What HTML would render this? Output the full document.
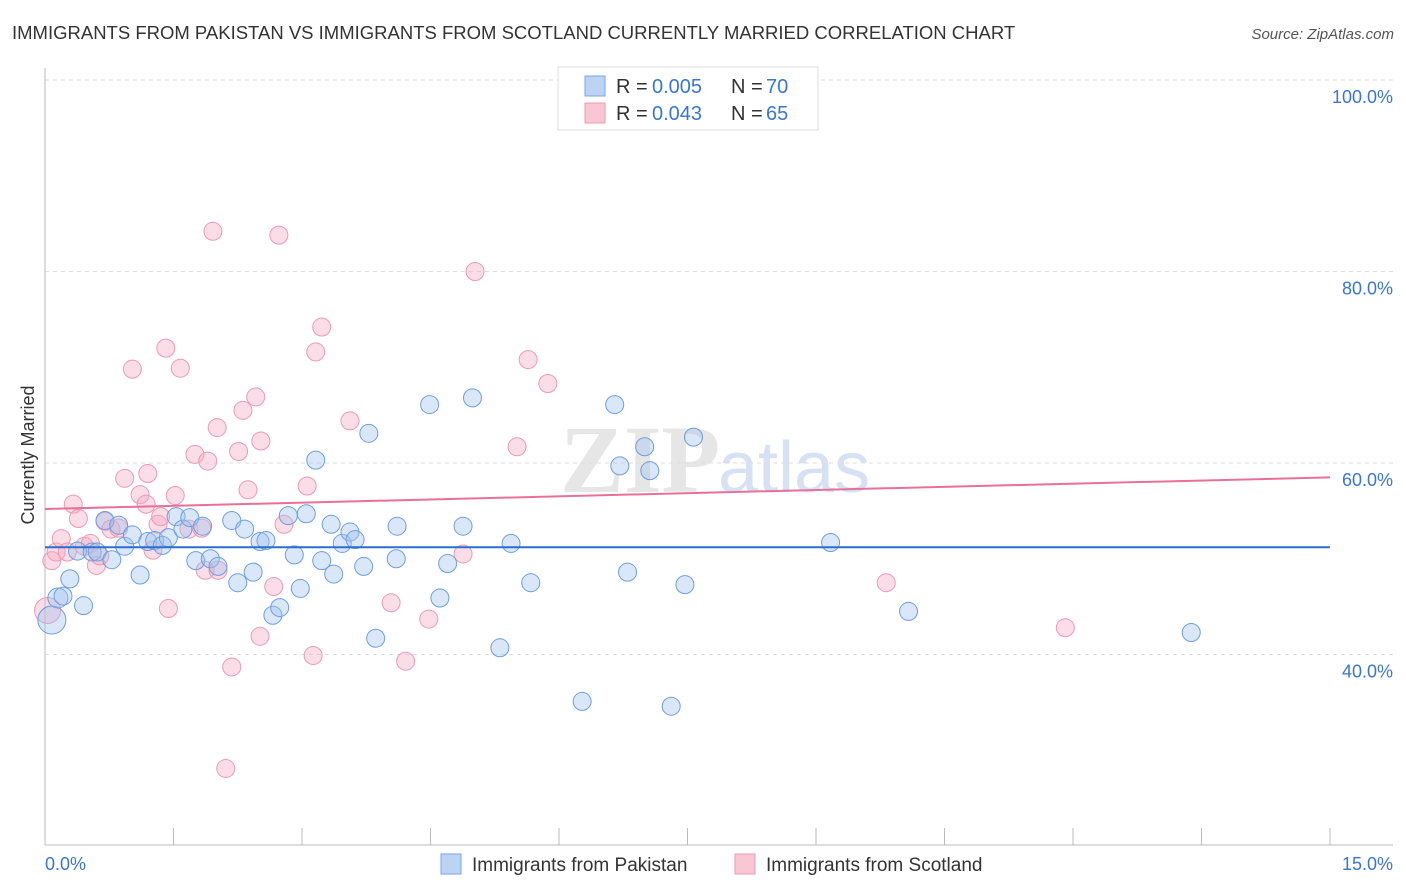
<!DOCTYPE html>
<html><head><meta charset="utf-8"><style>
body{margin:0;background:#fff;font-family:"Liberation Sans",sans-serif}
svg{display:block}
</style></head><body>
<svg id="chart" width="1406" height="892">
<text x="12" y="39" font-size="18.5" fill="#333">IMMIGRANTS FROM PAKISTAN VS IMMIGRANTS FROM SCOTLAND CURRENTLY MARRIED CORRELATION CHART</text>
<text x="1394" y="39" font-size="15" fill="#555" font-style="italic" text-anchor="end">Source: ZipAtlas.com</text>
<text x="720" y="492" font-size="96" fill="#e6e6e6" font-family="Liberation Serif" font-weight="bold" text-anchor="end">ZIP</text>
<text x="718" y="492" font-size="72" fill="#d6e2f4">atlas</text>
<g id="grid"></g>
<g id="axes"></g>
<g id="pts"></g>
<g id="lines"></g>
<text x="34" y="455" font-size="18" fill="#333" transform="rotate(-90 34 455)" text-anchor="middle">Currently Married</text>
<g>
<rect x="558" y="67" width="260" height="63" fill="#fff" stroke="#ddd"/>
<rect x="585" y="76" width="20" height="20" fill="#bcd4f4" stroke="#7aa6e3"/>
<text x="616" y="93" font-size="20" fill="#333">R =</text>
<text x="652" y="93" font-size="20" fill="#3a76d0">0.005</text>
<text x="731" y="93" font-size="20" fill="#333">N =</text>
<text x="766" y="93" font-size="20" fill="#3a76d0">70</text>
<rect x="585" y="103" width="20" height="20" fill="#f8c6d5" stroke="#ec9ab4"/>
<text x="616" y="120" font-size="20" fill="#333">R =</text>
<text x="652" y="120" font-size="20" fill="#3a76d0">0.043</text>
<text x="731" y="120" font-size="20" fill="#333">N =</text>
<text x="766" y="120" font-size="20" fill="#3a76d0">65</text>
</g>
<g>
<rect x="441" y="854" width="20" height="20" fill="#bcd4f4" stroke="#7aa6e3"/>
<text x="472" y="871" font-size="19" fill="#333">Immigrants from Pakistan</text>
<rect x="735" y="854" width="20" height="20" fill="#f8c6d5" stroke="#ec9ab4"/>
<text x="766" y="871" font-size="19" fill="#333">Immigrants from Scotland</text>
</g>
</svg>
<script>
const blueX=[0.08,0.15,0.21,0.29,0.45,0.38,0.55,0.61,0.70,0.78,0.86,0.93,1.02,1.11,1.20,1.28,1.37,1.44,1.53,1.61,1.69,1.76,1.84,1.93,2.02,2.18,2.25,2.33,2.43,2.51,2.58,2.66,2.74,2.84,2.91,2.98,3.05,3.16,3.23,3.34,3.37,3.47,3.56,3.62,3.72,3.78,3.86,4.10,4.11,4.49,4.61,4.70,4.88,4.99,5.31,5.44,5.67,6.27,6.65,6.71,6.80,7.00,7.06,7.31,7.47,7.57,9.17,10.08,13.38];
const blueY=[43.6,45.9,46.1,47.9,45.1,50.8,50.7,50.7,54.0,49.9,53.5,51.3,52.5,48.3,51.8,51.9,51.4,52.2,54.4,53.1,54.3,49.8,53.4,50.0,49.2,54.0,47.5,53.1,48.6,51.8,51.9,44.1,44.9,54.5,50.4,46.9,54.7,60.3,49.8,53.6,48.4,51.6,52.8,52.0,49.2,63.1,41.7,50.0,53.4,66.1,45.9,49.5,53.4,66.8,40.7,51.6,47.5,35.1,66.1,59.7,48.6,61.7,59.2,34.6,47.3,62.7,51.7,44.5,42.3];
const pinkX=[0.03,0.08,0.13,0.19,0.26,0.33,0.39,0.46,0.53,0.60,0.64,0.70,0.77,0.86,0.93,1.02,1.11,1.18,1.20,1.26,1.32,1.35,1.41,1.44,1.52,1.58,1.68,1.75,1.83,1.87,1.90,1.96,2.01,2.02,2.11,2.18,2.26,2.31,2.37,2.46,2.51,2.52,2.67,2.73,2.79,3.06,3.13,3.16,3.23,3.56,4.04,4.21,4.48,4.88,5.02,5.51,5.64,5.87,9.82,11.91];
const pinkY=[44.6,49.8,50.7,52.1,50.7,55.7,54.2,51.3,51.6,49.3,50.3,53.9,53.1,53.2,58.4,69.8,56.7,55.7,58.9,50.9,53.6,54.4,72.0,44.8,56.6,69.9,53.1,60.9,53.2,48.8,60.2,84.2,63.7,48.8,28.1,38.7,61.2,65.5,57.2,66.9,41.9,62.3,47.1,83.8,53.6,57.6,39.9,71.6,74.2,64.4,45.4,39.3,43.7,50.5,80.0,61.7,70.8,68.3,47.5,42.8];
const blueTrend=[51.2,51.2];
const pinkTrend=[55.2,58.5];
const yTicks=[100,80,60,40];
const yTickLabels=["100.0%","80.0%","60.0%","40.0%"];
const xTickVals=[0,1.5,3,4.5,6,7.5,9,10.5,12,13.5,15];
const NS="http://www.w3.org/2000/svg";
const X=v=>45+v/15*1285, Y=v=>80+(100-v)*9.575;
function mk(tag,attrs,parent){const e=document.createElementNS(NS,tag);for(const k in attrs)e.setAttribute(k,attrs[k]);document.getElementById(parent).appendChild(e);return e;}
yTicks.forEach((t,i)=>{
 const l=mk('line',{x1:45,x2:1393,y1:Y(t),y2:Y(t),stroke:'#ddd','stroke-dasharray':'4 4'},'grid');
 
 
 const tx=mk('text',{x:1393,y:Y(t)+23,'font-size':18,fill:'#3a76d0','text-anchor':'end'},'grid');
 tx.textContent=yTickLabels[i];
 
 
});
let a=mk('line',{x1:45,x2:45,y1:68,y2:845,stroke:'#bbb'},'axes');


a=mk('line',{x1:45,x2:1393,y1:845,y2:845,stroke:'#bbb'},'axes');


xTickVals.forEach(v=>{const t=mk('line',{x1:X(v),x2:X(v),y1:828,y2:845,stroke:'#bbb'},'axes');
 
 });
let t=mk('text',{x:45,y:870,'font-size':18,fill:'#3a76d0'},'axes');t.textContent='0.0%';


t=mk('text',{x:1393,y:870,'font-size':18,fill:'#3a76d0','text-anchor':'end'},'axes');t.textContent='15.0%';


pinkX.forEach((x,i)=>{const c=mk('circle',{cx:X(x),cy:Y(pinkY[i]),r:i===0?13:9,fill:'rgba(245,170,195,0.4)',stroke:'#ec9ab4','stroke-width':1},'pts');
 
 });
blueX.forEach((x,i)=>{const c=mk('circle',{cx:X(x),cy:Y(blueY[i]),r:i===0?14:(i===1?10:9),fill:'rgba(160,195,240,0.4)',stroke:'#6d9ee0','stroke-width':1},'pts');
 
 });
let ln=mk('line',{x1:X(0),x2:X(15),y1:Y(blueTrend[0]),y2:Y(blueTrend[1]),stroke:'#2a6fcf','stroke-width':2},'lines');


ln=mk('line',{x1:X(0),x2:X(15),y1:Y(pinkTrend[0]),y2:Y(pinkTrend[1]),stroke:'#e8709a','stroke-width':2},'lines');


</script>
</body></html>
